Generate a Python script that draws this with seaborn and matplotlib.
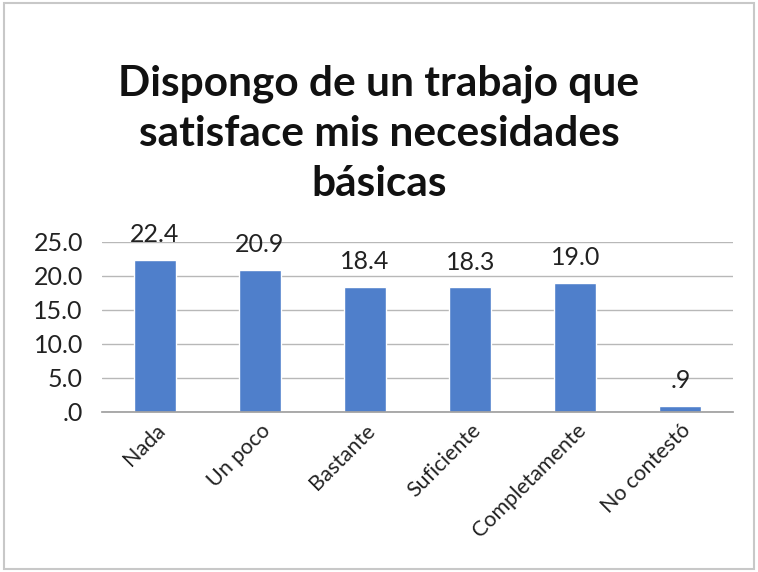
import matplotlib
matplotlib.use("Agg")
import matplotlib.pyplot as plt
import seaborn as sns
import pandas as pd
from matplotlib.patches import Rectangle

categories = ["Nada", "Un poco", "Bastante", "Suficiente", "Completamente", "No contestó"]
values = [22.4, 20.9, 18.4, 18.3, 19.0, 0.9]
value_labels = ["22.4", "20.9", "18.4", "18.3", "19.0", ".9"]
yticks = [0, 5, 10, 15, 20, 25]
ytick_labels = [".0", "5.0", "10.0", "15.0", "20.0", "25.0"]
title = "Dispongo de un trabajo que\nsatisface mis necesidades\nbásicas"

sns.set_theme(style="white")
plt.rcParams['font.family'] = ['Lato', 'DejaVu Sans']

df = pd.DataFrame({"cat": categories, "val": values})

fig = plt.figure(figsize=(7.58, 5.72), dpi=100)
ax = fig.add_axes([0.135, 0.280, 0.832, 0.297])

sns.barplot(data=df, x="cat", y="val", color="#4F7FCB", saturation=1, width=0.4, ax=ax)

ax.set_ylim(0, 25)
ax.set_xlim(-0.5, len(categories) - 0.5)
ax.set_yticks(yticks)
ax.set_yticklabels(ytick_labels, fontsize=18, color="#222222")
ax.set_xticks(range(len(categories)))
ax.set_xticklabels(categories, rotation=45, ha="right", rotation_mode="anchor", fontsize=15.5, color="#222222")
ax.tick_params(axis="x", length=0, pad=6)
ax.tick_params(axis="y", length=0, pad=14)
ax.set_xlabel("")
ax.set_ylabel("")

ax.yaxis.grid(True, color="#B8B8B8", linewidth=1)
ax.set_axisbelow(True)
for s in ["top", "right", "left"]:
    ax.spines[s].set_visible(False)
ax.spines["bottom"].set_color("#A0A0A0")
ax.set_xticks([i + 0.5 for i in range(-1, len(categories))], minor=True)
ax.tick_params(axis="x", which="minor", length=5, color="#A0A0A0", direction="out")

for i, (v, lab) in enumerate(zip(values, value_labels)):
    ax.text(i, v + 2.0, lab, ha="center", va="bottom", fontsize=18, color="#222222")

fig.text(0.5, 0.766, title, ha="center", va="center", fontsize=30.5, fontweight="bold",
         color="#111111", linespacing=1.4)

fig.patches.append(Rectangle((0.005, 0.005), 0.99, 0.99, transform=fig.transFigure,
                             fill=False, edgecolor="#C8C8C8", linewidth=1.5))

fig.savefig("out.png", dpi=100)
